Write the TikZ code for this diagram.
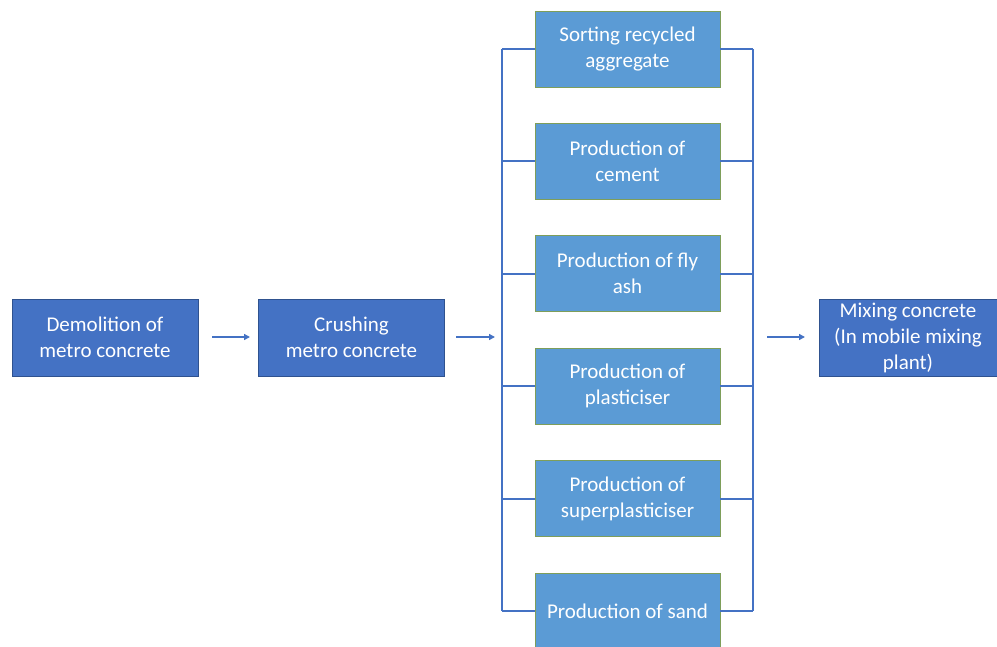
\documentclass[tikz,border=0pt]{standalone}
\usepackage{fontspec}
\setmainfont{Carlito}
\usetikzlibrary{arrows.meta}
\definecolor{darkblue}{HTML}{4472C4}
\definecolor{lightblue}{HTML}{5B9BD5}
\definecolor{stepedge}{HTML}{2F528F}
\definecolor{greenedge}{HTML}{7E9E5A}
\definecolor{linkblue}{HTML}{4472C4}

\begin{document}
\begin{tikzpicture}[x=1pt,y=-1pt,
    mainbox/.style={draw=stepedge, fill=darkblue, line width=0.8pt, text=white, align=center,
      minimum width=186pt, minimum height=77pt, inner sep=0pt,
      font=\fontsize{21}{26}\selectfont},
    subbox/.style={draw=greenedge, fill=lightblue, line width=0.8pt, text=white, align=center,
      minimum width=185pt, minimum height=76pt, inner sep=0pt,
      font=\fontsize{21}{26}\selectfont},
    link/.style={draw=linkblue, line width=2pt},
    flow/.style={draw=linkblue, line width=2pt, -{Triangle[length=6pt,width=6pt]}}]
    \useasboundingbox (0,0) rectangle (997,646);

    % bracket lines behind the boxes
    \coordinate (lt) at (502,49);
    \coordinate (lb) at (502,611);
    \coordinate (rt) at (753,49);
    \coordinate (rb) at (753,611);
    \draw[link] (lt) -- (lb);
    \draw[link] (rt) -- (rb);

    \node[mainbox] (demolition) at (105,337.5) {Demolition of\\metro concrete};
    \node[mainbox] (crushing) at (351.5,337.5) {Crushing\\metro concrete};
    \node[mainbox, minimum width=178pt] (mixing) at (908,337.5) {Mixing concrete\\(In mobile mixing\\plant)};

    \foreach \name/\y/\txt in {sorting/49/{Sorting recycled\\aggregate},
                               cement/161/{Production of\\cement},
                               flyash/273.5/{Production of fly\\ash},
                               plasticiser/386/{Production of\\plasticiser},
                               superpl/498.5/{Production of\\superplasticiser},
                               sand/611/{Production of sand}}{
      \node[subbox] (\name) at (627.5,\y) {\txt};
      \draw[link] (\name.west) -- (lt |- \name.west);
      \draw[link] (\name.east) -- (rt |- \name.east);
    }

    % arrows between the stages
    \coordinate (a1) at (212,337);
    \coordinate (a2) at (250,337);
    \coordinate (b1) at (456,337);
    \coordinate (b2) at (495,337);
    \coordinate (c1) at (767,337);
    \coordinate (c2) at (805,337);
    \draw[flow] (a1) -- (a2);
    \draw[flow] (b1) -- (b2);
    \draw[flow] (c1) -- (c2);

\end{tikzpicture}
\end{document}
